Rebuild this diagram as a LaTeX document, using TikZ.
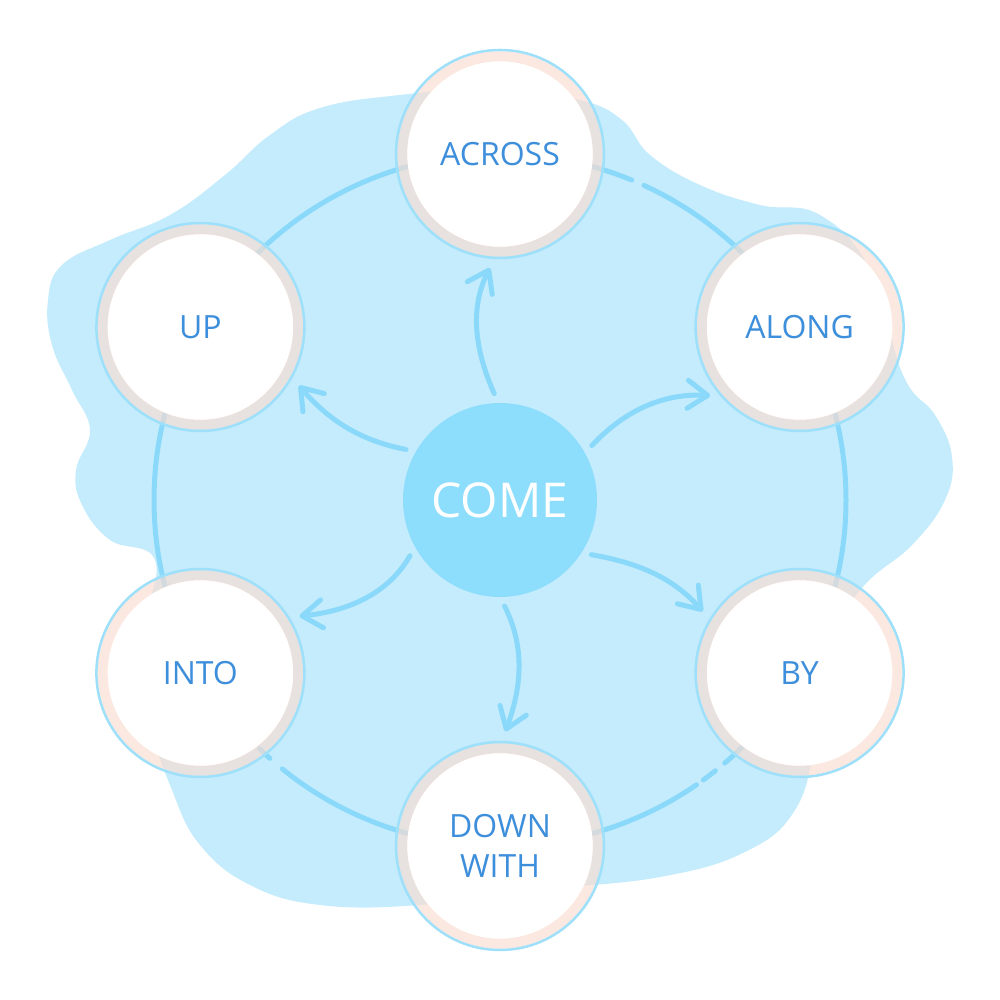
\documentclass[tikz,border=0pt]{standalone}
\usepackage{fontspec}
\setmainfont{Open Sans}
\usetikzlibrary{arrows.meta,calc}
\definecolor{blobblue}{HTML}{C5ECFC}
\definecolor{lineblue}{HTML}{8AD9FA}
\definecolor{comeblue}{HTML}{8CDEFC}
\definecolor{edgeblue}{HTML}{9EE0FA}
\definecolor{ringpeach}{RGB}{250,220,208}
\definecolor{textblue}{HTML}{3D8EDB}
\tikzset{
  outer/.style={circle, minimum size=208pt, inner sep=0pt,
    draw=edgeblue, line width=2.5pt, text=textblue,
    font=\fontsize{32}{40}\selectfont, align=center,
    path picture={
      \fill[white] (path picture bounding box.center) circle (93pt);
      \draw[ringpeach, opacity=0.65, line width=10pt] (path picture bounding box.center) circle (97.75pt);}},
  comestyle/.style={circle, minimum size=194pt, inner sep=0pt, fill=comeblue,
    text=white, font=\fontsize{48}{56}\selectfont},
  ringline/.style={draw=lineblue, line width=5pt, line cap=round},
  arrowline/.style={draw=lineblue, line width=5pt, line cap=round,
    -{Straight Barb[length=20pt,width=28pt,round]},
    shorten <=10pt, shorten >=10pt}
}
\begin{document}
\begin{tikzpicture}[x=1pt,y=1pt]
\useasboundingbox (0,0) rectangle (1000,1000);
\fill[white] (0,0) rectangle (1000,1000);
% background blob
\fill[blobblue] plot[smooth cycle, tension=0.7] coordinates {
 (400,905) (500,912) (580,900) (622,880) (650,845) (700,815) (760,795)
 (820,785) (870,730) (903,625) (935,585) (952,543) (945,500) (912,455)
 (862,412) (825,350) (815,260) (795,190) (745,148) (660,123) (540,110)
 (420,95) (320,95) (250,115) (200,155) (172,210) (150,280) (145,370)
 (155,440) (110,460) (82,495) (76,530) (90,570) (72,610) (52,655)
 (48,700) (62,735) (110,760) (170,785) (225,825) (270,865) (320,892)};
% ring
\coordinate (rc) at (500,500);
\foreach \a/\b in {-15/15, 25/65.4, 67.6/75, 105/135, 165/195, 226/228.3,
                   231/255, 285/304.6, 306/308.5, 310.5/315}
  \draw[ringline] ($(rc)+(\a:346)$) arc[start angle=\a, end angle=\b, radius=346];
% nodes
\node[comestyle] (come) at (500,500) {COME};
\node[outer] (across) at (500,846) {ACROSS};
\node[outer] (up) at (200.4,673) {UP};
\node[outer] (along) at (799.6,673) {ALONG};
\node[outer] (into) at (200.4,327) {INTO};
\node[outer] (by) at (799.6,327) {BY};
\node[outer] (down) at (500,154) {DOWN\\WITH};
% arrows
\draw[arrowline] (come.91) to[out=114, in=243] (across.267.6);
\draw[arrowline] (come.150) to[out=169, in=310.6] (up.-29.2);
\draw[arrowline] (come.29.3) to[out=47, in=177] (along.221.6);
\draw[arrowline] (come.209.8) to[out=240, in=6] (into.32.3);
\draw[arrowline] (come.-33.5) to[out=-10, in=131.6] (by.149.5);
\draw[arrowline] (come.-90) to[out=-63, in=69.6] (down.89.5);
\end{tikzpicture}
\end{document}
